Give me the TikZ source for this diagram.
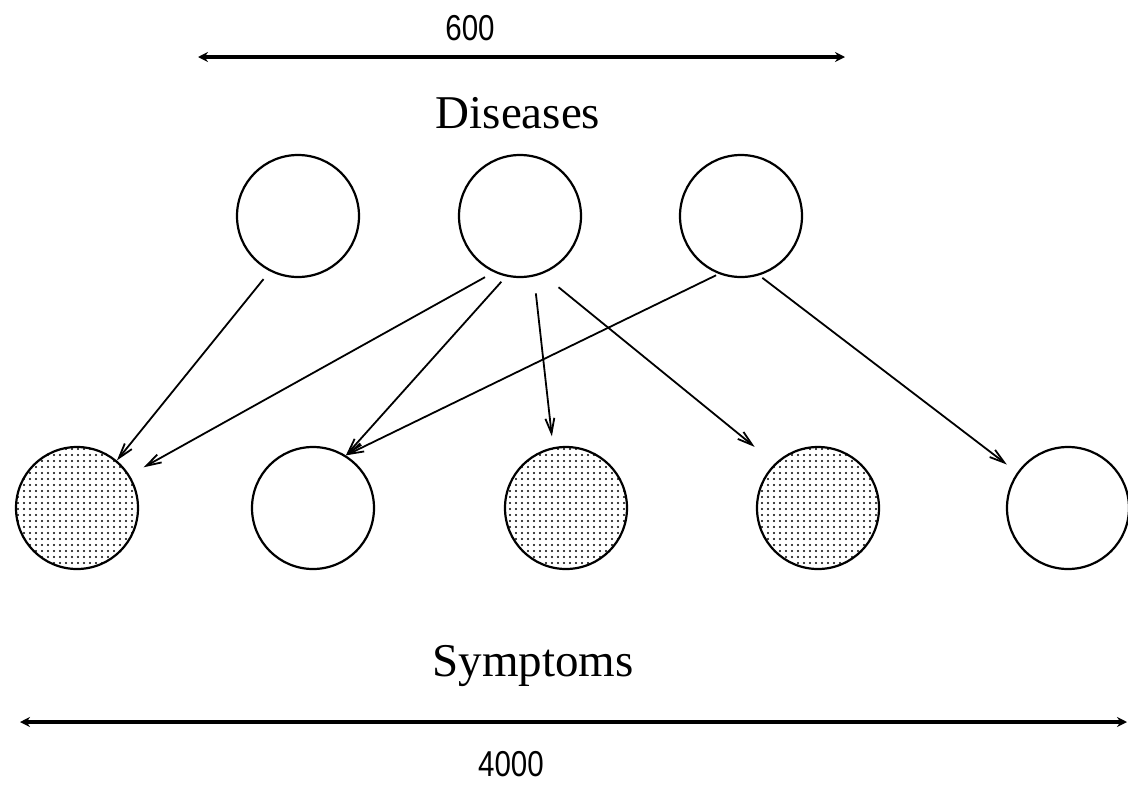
\documentclass[tikz,border=0pt]{standalone}
\usepackage{fontspec}
\setmainfont{Liberation Serif}
\newfontfamily\numfont{Liberation Sans}
\usetikzlibrary{arrows.meta,patterns.meta}

\tikzset{
  var/.style={circle,draw,line width=2.2pt,minimum size=122pt,inner sep=0pt},
  obs/.style={var,pattern={Dots[distance=6pt,radius=1.2pt]}},
  link/.style={line width=1.8pt,-{Straight Barb[length=15pt,width=9pt,line width=1.8pt]}},
  dimline/.style={line width=3.4pt,{Stealth[length=10pt,width=10pt]}-{Stealth[length=10pt,width=10pt]}},
  title/.style={anchor=base,inner sep=0pt,font=\fontsize{47}{47}\selectfont},
  num/.style={anchor=base,inner sep=0pt,font=\numfont\fontsize{36}{36}\selectfont},
}

\begin{document}
\begin{tikzpicture}[x=1pt,y=-1pt]
\useasboundingbox (0,0) rectangle (1128,785);
% diseases
\node[var] (d1) at (298,216) {};
\node[var] (d2) at (520,216) {};
\node[var] (d3) at (741,216) {};
% symptoms
\node[obs] (s1) at (77,508) {};
\node[var] (s2) at (313,508) {};
\node[obs] (s3) at (566,508) {};
\node[obs] (s4) at (818,508) {};
\node[var] (s5) at (1068,508) {};
% links
\draw[link,shorten <=10pt] (d1.243) -- (s1.50);
\draw[link,shorten <=10pt,shorten >=16pt] (d2.245) -- (s1.32);
\draw[link,shorten <=7pt] (d2.257) -- (s2.58);
\draw[link,shorten <=17pt,shorten >=11pt] (d2.283) -- (s3.102);
\draw[link,shorten <=21pt,shorten >=26pt] (d2.291) -- (s4.134);
\draw[link,shorten <=3pt] (d3.249) -- (s2.58);
\draw[link,shorten <=4pt,shorten >=13pt] (d3.287) -- (s5.145);
%Text
\coordinate (top-l) at (198,57);
\coordinate (top-r) at (845,57);
\coordinate (bot-l) at (20,722);
\coordinate (bot-r) at (1127,722);
\draw[dimline] (top-l) -- (top-r);
\draw[dimline] (bot-l) -- (bot-r);
\node[num] (w600) at (470,40) {\scalebox{0.82}[1]{600}};
\node[title] (dis) at (518,128) {Diseases};
\node[title] (sym) at (533,676) {Symptoms};
\node[num] (w4000) at (511,776) {\scalebox{0.82}[1]{4000}};
\end{tikzpicture}
\end{document}
